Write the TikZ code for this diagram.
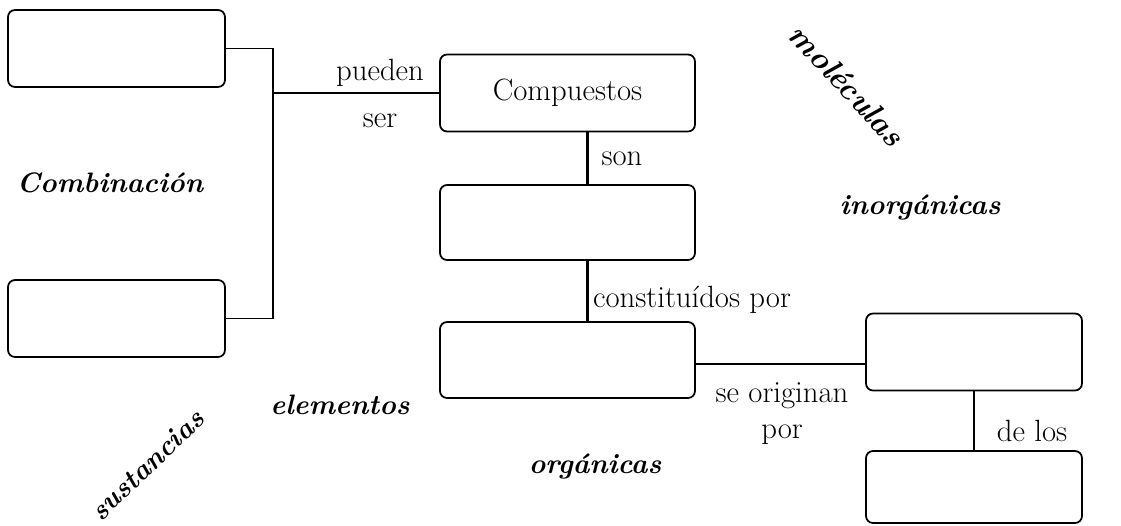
\documentclass[tikz,border=0pt]{standalone}
\usepackage{fontspec}
\usepackage{tikz}
\usetikzlibrary{positioning}

\tikzset{
    caja/.style={draw, line width=1pt, rounded corners=0.14cm, minimum width=5.1cm, minimum height=1.54cm, inner sep=0pt},
    cajachica/.style={caja, minimum width=4.34cm},
    enlace/.style={line width=1.5pt},
    rotulo/.style={font=\fontsize{17.5}{20}\selectfont},
    concepto/.style={font=\fontsize{16}{19}\selectfont\bfseries\itshape}
}

\begin{document}
\begin{tikzpicture}[x=0.02cm, y=-0.02cm]
            \useasboundingbox (0,0) rectangle (1121,525);

            % Draw the boxes
            \node[cajachica] (arriba) at (116.5,48.5) {};
            \node[cajachica] (abajo) at (116.5,318.5) {};
            \node[caja, rotulo] (compuestos) at (567.5,93) {Compuestos};
            \node[caja, minimum height=1.5cm] (medio) at (567.5,222.5) {};
            \node[caja, minimum height=1.52cm] (bajo) at (567.5,360) {};
            \node[cajachica, minimum width=4.32cm] (derecha) at (974,352) {};
            \node[cajachica, minimum width=4.32cm, minimum height=1.44cm] (final) at (974,487) {};

            % Draw the connectors
            \coordinate (union) at (273,93);
            \draw[line width=1pt] (arriba.east) -| (union) |- (abajo.east);
            \draw[enlace] (union) -- (compuestos.west);
            \draw[enlace] ([xshift=0.4cm]compuestos.south) -- ([xshift=0.4cm]medio.north);
            \draw[enlace] ([xshift=0.4cm]medio.south) -- ([xshift=0.4cm]bajo.north);
            \draw[enlace] ([yshift=-0.08cm]bajo.east) -- ([yshift=-0.08cm]bajo.east -| derecha.west);
            \draw[line width=0.8pt] (derecha.south) -- (final.north);

            % Draw the linking words
            \node[rotulo] (pueden) at (380,73) {pueden};
            \node[rotulo] (ser) at (380,121) {ser};
            \node[rotulo] (son) at (622,159) {son};
            \node[rotulo] (constituidos) at (692,300) {constituídos por};
            \node[rotulo] (originan) at (782,396) {se originan};
            \node[rotulo] (por) at (782,435) {por};
            \node[rotulo] (delos) at (1032,431) {de los};

            % Draw the loose concepts
            \node[concepto] (combinacion) at (110,183) {Combinación};
            \node[concepto, font=\fontsize{18}{21}\selectfont\bfseries\itshape, rotate=-47] (moleculas) at (847,85) {moléculas};
            \node[concepto] (inorganicas) at (920,208) {inorgánicas};
            \node[concepto] (elementos) at (340,405) {elementos};
            \node[concepto, rotate=44] (sustancias) at (147,465) {sustancias};
            \node[concepto] (organicas) at (595,467) {orgánicas};

        \end{tikzpicture}
\end{document}
